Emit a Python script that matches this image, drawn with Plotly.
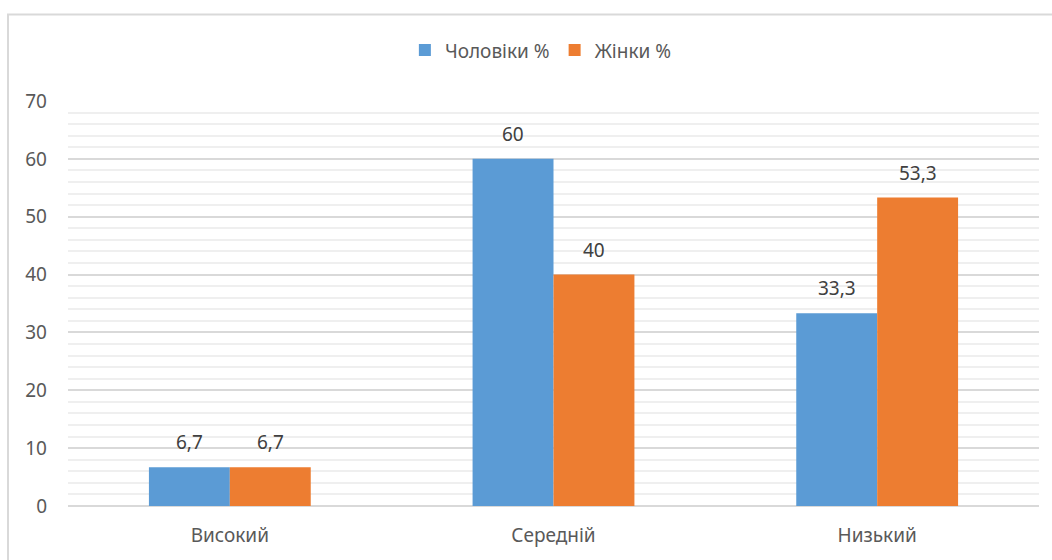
import plotly.graph_objects as go

categories = ["Високий", "Середній", "Низький"]
men_pct = [6.7, 60, 33.3]
women_pct = [6.7, 40, 53.3]
men_labels = ["6,7", "60", "33,3"]
women_labels = ["6,7", "40", "53,3"]

W, H = 1052, 560
L, R, T, B = 68, 13, 101, 52
FONT = "Noto Sans, Liberation Sans, sans-serif"
TXT = "#595959"
SIZE = 19

fig = go.Figure()
fig.add_trace(go.Bar(
    x=categories, y=men_pct, name="Чоловіки %",
    marker=dict(color="#5b9bd5", line=dict(width=0)),
))
fig.add_trace(go.Bar(
    x=categories, y=women_pct, name="Жінки %",
    marker=dict(color="#ed7d31", line=dict(width=0)),
))

pw = W - L - R
ph = H - T - B
cat_w = pw / len(categories)
bar_w = cat_w * 0.5 / 2

# value labels above each bar
for vals, labels, shift in ((men_pct, men_labels, -bar_w / 2), (women_pct, women_labels, bar_w / 2)):
    for c, v, t in zip(categories, vals, labels):
        fig.add_annotation(
            x=c, y=v, text=t, showarrow=False,
            xshift=shift, yshift=10, yanchor="bottom",
            font=dict(size=SIZE, color="#404040", family=FONT),
        )

# outer chart frame
fig.add_shape(
    type="rect", xref="paper", yref="paper",
    x0=(8 - L) / pw, x1=(W + 10 - L) / pw,
    y0=-(H + 10 - (H - B)) / ph, y1=((H - B) - 14) / ph,
    line=dict(color="#d9d9d9", width=2), fillcolor="rgba(0,0,0,0)", layer="below",
)

fig.update_layout(
    width=W, height=H,
    margin=dict(l=L, r=R, t=T, b=B),
    paper_bgcolor="white", plot_bgcolor="white",
    barmode="group", bargap=0.5, bargroupgap=0,
    font=dict(family=FONT, color=TXT, size=SIZE),
    legend=dict(
        orientation="h", x=0.487, xanchor="center",
        y=((H - B) - 50) / ph, yanchor="middle",
        font=dict(size=SIZE, color=TXT, family=FONT),
        itemwidth=30, traceorder="normal",
    ),
    xaxis=dict(
        showgrid=False, showline=False, zeroline=False,
        ticks="", ticklabelstandoff=16,
        tickfont=dict(size=SIZE, color=TXT),
    ),
    yaxis=dict(
        range=[0, 70], dtick=10, tick0=0,
        showgrid=True, gridcolor="#d9d9d9", gridwidth=1.5,
        minor=dict(dtick=2, showgrid=True, gridcolor="#efefef", gridwidth=1.5),
        zeroline=True, zerolinecolor="#d9d9d9", zerolinewidth=1.5,
        showline=False, ticks="", ticklabelstandoff=20,
        tickfont=dict(size=SIZE, color=TXT),
    ),
)

fig.write_html("out.html")
